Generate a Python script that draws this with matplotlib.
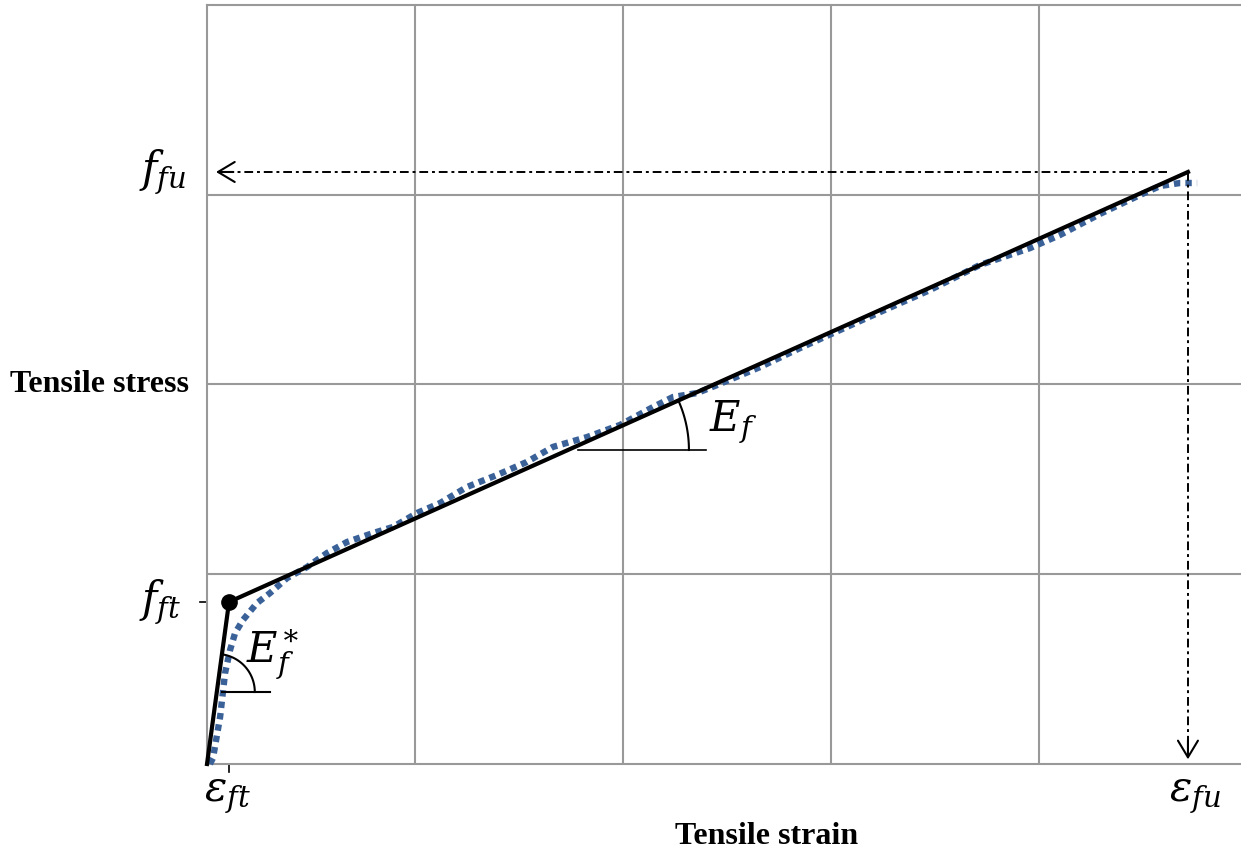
import numpy as np
import matplotlib
matplotlib.use("Agg")
import matplotlib.pyplot as plt

plt.rcParams['font.family'] = ['Liberation Serif', 'DejaVu Serif']
plt.rcParams['mathtext.fontset'] = 'custom'
plt.rcParams['mathtext.rm'] = 'DejaVu Serif'
plt.rcParams['mathtext.it'] = 'DejaVu Serif:italic'
plt.rcParams['mathtext.bf'] = 'DejaVu Serif:bold'

# measured curve (grid units: 1 unit per grid cell)
test_strain = [0.014, 0.029, 0.063, 0.087, 0.111, 0.135, 0.173, 0.240, 0.303, 0.385,
               0.481, 0.577, 0.673, 0.798, 0.894, 1.010, 1.120, 1.250, 1.394, 1.538,
               1.663, 1.827, 1.986, 2.144, 2.240, 2.356, 2.452, 2.659, 2.851, 3.043,
               3.236, 3.476, 3.716, 3.957, 4.101, 4.293, 4.486, 4.582, 4.678, 4.760]
test_stress = [0.0, 0.032, 0.248, 0.480, 0.601, 0.690, 0.759, 0.848, 0.901, 0.980,
               1.038, 1.112, 1.170, 1.217, 1.249, 1.323, 1.375, 1.460, 1.523, 1.592,
               1.671, 1.723, 1.787, 1.881, 1.934, 1.955, 1.997, 2.092, 2.192, 2.287,
               2.382, 2.498, 2.630, 2.719, 2.788, 2.899, 2.999, 3.046, 3.062, 3.062]

# bilinear model
model_strain = [0.0, 0.106, 4.716]
model_stress = [0.0, 0.854, 3.12]

xmax, ymax = 4.971, 4.0
px_x, px_y = 208.0, 189.75   # pixels per grid unit


def arc(xc, yc, r, a0, a1):
    t = np.radians(np.linspace(a0, a1, 40))
    return xc + r * np.cos(t) / px_x, yc + r * np.sin(t) / px_y


fig = plt.figure(figsize=(12.41, 8.52), dpi=100)
ax = fig.add_axes([207 / 1241, 88 / 852, 1034 / 1241, 759 / 852])
ax.set_xlim(0, xmax)
ax.set_ylim(0, ymax)
ax.set_xticks([1, 2, 3, 4])
ax.set_yticks([1, 2, 3])
ax.tick_params(length=0, labelbottom=False, labelleft=False)
ax.grid(color='#999999', linewidth=1.5)
for s in ['left', 'bottom', 'top']:
    ax.spines[s].set_color('#999999')
    ax.spines[s].set_linewidth(1.5)
ax.spines['right'].set_visible(False)

ax.plot(test_strain, test_stress, color='#3b6298', lw=4.6, dashes=(1, 0.8),
        dash_capstyle='butt', zorder=3, clip_on=False)
ax.plot(model_strain, model_stress, color='black', lw=3, zorder=4, clip_on=False)
ax.plot(model_strain[1], model_stress[1], 'o', color='black', ms=11, zorder=5, clip_on=False)

# dash-dot guides with open arrow heads
eu, fu = model_strain[2], model_stress[2]
ax.plot([eu - 0.1, 0.04], [fu, fu], color='black', lw=1.4, dashes=(4.5, 2, 1.5, 2), zorder=4)
ax.annotate('', xy=(0.03, fu), xytext=(0.14, fu),
            arrowprops=dict(arrowstyle='->,head_length=0.5,head_width=0.3',
                            color='black', lw=1.5, mutation_scale=24))
ax.plot([eu, eu], [fu, 0.05], color='black', lw=1.4, dashes=(4.5, 2, 1.5, 2), zorder=4)
ax.annotate('', xy=(eu, 0.01), xytext=(eu, 0.14),
            arrowprops=dict(arrowstyle='->,head_length=0.5,head_width=0.3',
                            color='black', lw=1.5, mutation_scale=24))

# small ticks for f_ft and eps_ft
ax.plot([-0.034, 0], [model_stress[1]] * 2, color='black', lw=1.2, clip_on=False)
ax.plot([model_strain[1]] * 2, [0, -0.04], color='black', lw=1.2, clip_on=False)

# slope markers
yc = (764 - 450) / px_y
xc = model_strain[1] + (yc - model_stress[1]) * (model_strain[2] - model_strain[1]) / (model_stress[2] - model_stress[1])
ax.plot([(578 - 207) / px_x, (706 - 207) / px_x], [yc, yc], color='black', lw=1.2, zorder=4)
ax.plot(*arc(xc, yc, 121, 0, 24.2), color='black', lw=1.5, zorder=4)

yc2 = (764 - 692) / px_y
xc2 = model_strain[1] * yc2 / model_stress[1]
ax.plot([(222 - 207) / px_x, (270 - 207) / px_x], [yc2, yc2], color='black', lw=1.5, zorder=4)
ax.plot(*arc(xc2, yc2, 38, 0, 82), color='black', lw=1.5, zorder=4)

# labels (figure pixel coordinates)
def ftext(x, y, s, **kw):
    fig.text(x / 1241, 1 - y / 852, s, ha='center', va='center', **kw)

ftext(163, 172, r'$f_{fu}$', fontsize=30)
ftext(160, 602, r'$f_{ft}$', fontsize=30)
ftext(227, 797, r'$\varepsilon_{ft}$', fontsize=30)
ftext(1195, 797, r'$\varepsilon_{fu}$', fontsize=30)
ftext(733, 422, r'$E_f$', fontsize=30)
ftext(272, 655, r'$E_f^{\ast}$', fontsize=30)
ftext(100, 385, 'Tensile stress', fontsize=23, fontweight='bold')
ftext(767, 836, 'Tensile strain', fontsize=23, fontweight='bold')

plt.savefig("out.png", dpi=100)
